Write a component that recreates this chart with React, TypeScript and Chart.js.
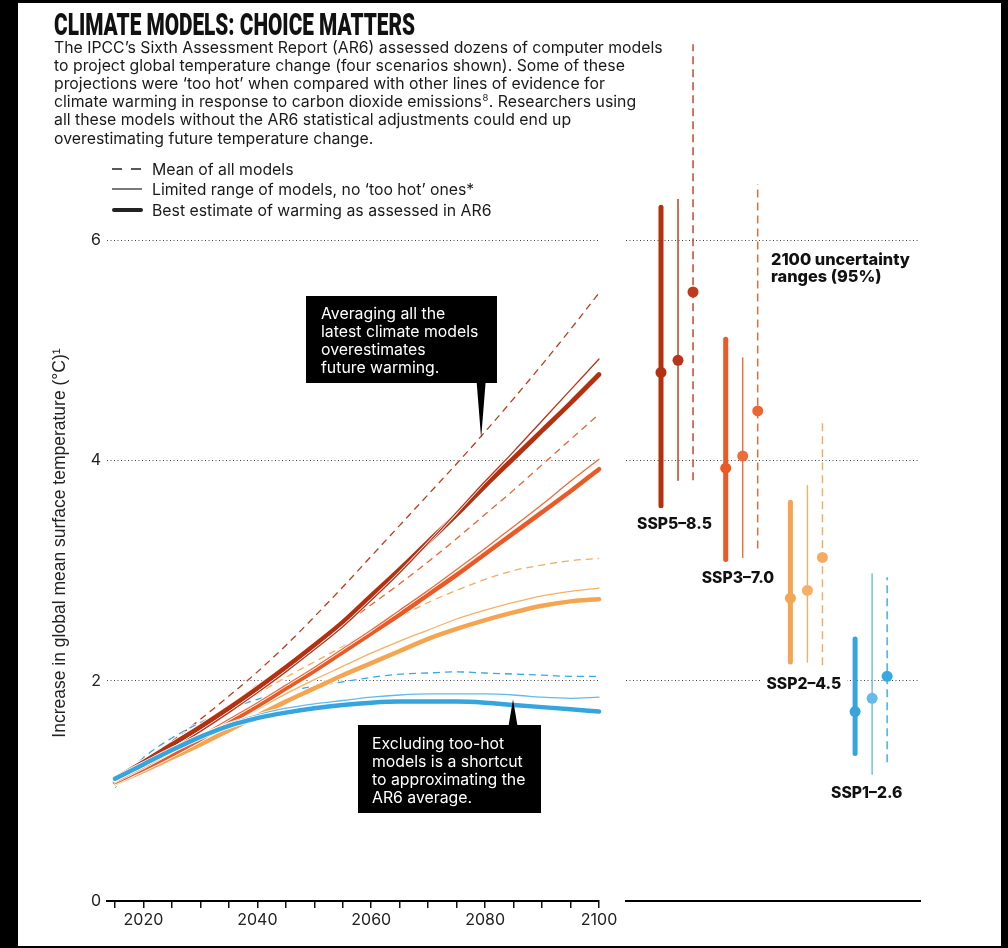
import React, { useEffect, useRef } from 'react';
import { Chart, registerables } from 'chart.js';

Chart.register(...registerables);

// ---------- Data ----------
const years = [2015, 2020, 2025, 2030, 2035, 2040, 2045, 2050, 2055, 2060, 2065, 2070, 2075, 2080, 2085, 2090, 2095, 2100];
const labelYears = [2020, 2040, 2060, 2080, 2100];
const yTickValues = [0, 2, 4, 6];
const yGridValues = [2, 4, 6];

// SSP5-8.5
const ssp585Mean = [1.05, 1.25, 1.45, 1.65, 1.86, 2.08, 2.32, 2.58, 2.85, 3.13, 3.41, 3.69, 3.97, 4.26, 4.56, 4.87, 5.19, 5.52];
const ssp585Limited = [1.09, 1.23, 1.38, 1.54, 1.71, 1.89, 2.08, 2.28, 2.49, 2.73, 2.98, 3.25, 3.53, 3.81, 4.08, 4.36, 4.64, 4.92];
const ssp585Best = [1.11, 1.26, 1.42, 1.58, 1.75, 1.93, 2.12, 2.32, 2.53, 2.77, 3.01, 3.26, 3.51, 3.77, 4.02, 4.27, 4.52, 4.78];
// SSP3-7.0
const ssp370Mean = [1.04, 1.23, 1.41, 1.59, 1.77, 1.96, 2.13, 2.31, 2.50, 2.69, 2.88, 3.08, 3.29, 3.51, 3.73, 3.96, 4.19, 4.42];
const ssp370Limited = [1.08, 1.21, 1.35, 1.50, 1.65, 1.80, 1.96, 2.12, 2.29, 2.46, 2.64, 2.82, 3.01, 3.20, 3.40, 3.60, 3.81, 4.01];
const ssp370Best = [1.08, 1.20, 1.33, 1.47, 1.62, 1.77, 1.93, 2.09, 2.26, 2.43, 2.60, 2.78, 2.96, 3.15, 3.34, 3.53, 3.72, 3.92];
// SSP2-4.5
const ssp245Mean = [1.04, 1.22, 1.39, 1.56, 1.72, 1.88, 2.03, 2.17, 2.31, 2.45, 2.58, 2.71, 2.82, 2.92, 3.00, 3.05, 3.09, 3.11];
const ssp245Limited = [1.05, 1.18, 1.32, 1.46, 1.60, 1.74, 1.88, 2.01, 2.13, 2.25, 2.36, 2.46, 2.56, 2.64, 2.71, 2.77, 2.81, 2.84];
const ssp245Best = [1.07, 1.18, 1.30, 1.42, 1.55, 1.68, 1.81, 1.93, 2.05, 2.16, 2.27, 2.38, 2.47, 2.55, 2.62, 2.68, 2.72, 2.74];
// SSP1-2.6
const ssp126Mean = [1.03, 1.30, 1.48, 1.62, 1.74, 1.83, 1.90, 1.95, 1.99, 2.03, 2.06, 2.07, 2.08, 2.07, 2.06, 2.05, 2.04, 2.04];
const ssp126Limited = [1.10, 1.24, 1.37, 1.50, 1.61, 1.69, 1.75, 1.79, 1.82, 1.85, 1.87, 1.88, 1.88, 1.88, 1.87, 1.85, 1.84, 1.85];
const ssp126Best = [1.11, 1.24, 1.37, 1.49, 1.59, 1.66, 1.71, 1.75, 1.78, 1.80, 1.81, 1.81, 1.81, 1.80, 1.78, 1.76, 1.74, 1.72];

// 2100 uncertainty ranges (95%)
const scenarioNames = ['SSP5–8.5', 'SSP3–7.0', 'SSP2–4.5', 'SSP1–2.6'];
const best2100Low = [3.59, 3.10, 2.17, 1.34];
const best2100Mid = [4.80, 3.93, 2.75, 1.72];
const best2100High = [6.30, 5.10, 3.62, 2.38];
const limited2100Low = [3.82, 3.12, 2.17, 1.15];
const limited2100Mid = [4.91, 4.04, 2.82, 1.84];
const limited2100High = [6.37, 4.93, 3.77, 2.97];
const mean2100Low = [3.82, 3.20, 2.14, 1.26];
const mean2100Mid = [5.53, 4.45, 3.12, 2.04];
const mean2100High = [7.78, 6.51, 4.37, 2.94];

// ---------- Styles ----------
const bestColors = ['#b5300f', '#e95a26', '#f5a550', '#36a5de'];
const limitedColors = ['#b83519', '#ee6c3a', '#f7af66', '#62bbea'];
const meanColors = ['#c03a1c', '#ec6532', '#f6ab60', '#3aa8e0'];

const TITLE = 'CLIMATE MODELS: CHOICE MATTERS';
const BODY: { t: string; sup?: boolean }[][] = [
  [{ t: 'The IPCC’s Sixth Assessment Report (AR6) assessed dozens of computer models' }],
  [{ t: 'to project global temperature change (four scenarios shown). Some of these' }],
  [{ t: 'projections were ‘too hot’ when compared with other lines of evidence for' }],
  [{ t: 'climate warming in response to carbon dioxide emissions' }, { t: '8', sup: true }, { t: '. Researchers using' }],
  [{ t: 'all these models without the AR6 statistical adjustments could end up' }],
  [{ t: 'overestimating future temperature change.' }],
];
const LEGEND = ['Mean of all models', 'Limited range of models, no ‘too hot’ ones*', 'Best estimate of warming as assessed in AR6'];
const BOX1 = ['Averaging all the', 'latest climate models', 'overestimates', 'future warming.'];
const BOX2 = ['Excluding too-hot', 'models is a shortcut', 'to approximating the', 'AR6 average.'];

const FAMILY = 'Inter, "Noto Sans", sans-serif';
const TEXT = '#1a1a1a';
const VARIANT_OFFSETS = [-0.263, 0, 0.232];

function fitSize(ctx: CanvasRenderingContext2D, text: string, target: number, weight: string, family: string) {
  ctx.font = `${weight} 100px ${family}`;
  return (100 * target) / ctx.measureText(text).width;
}

const mainTextPlugin = {
  id: 'mainText',
  afterDraw(chart: any) {
    const ctx: CanvasRenderingContext2D = chart.ctx;
    const xs = chart.scales.x;
    const ys = chart.scales.y;
    ctx.save();
    ctx.textBaseline = 'alphabetic';
    ctx.textAlign = 'left';

    // Title (condensed heavy)
    ctx.fillStyle = '#111';
    ctx.font = `900 31px Roboto, sans-serif`;
    const tw = ctx.measureText(TITLE).width;
    ctx.save();
    ctx.translate(54, 35);
    ctx.scale(361 / tw, 1);
    ctx.fillText(TITLE, 0, 0);
    ctx.restore();

    // Body text
    const bs = fitSize(ctx, BODY[0][0].t, 609, '400', FAMILY);
    ctx.fillStyle = TEXT;
    BODY.forEach((segs, i) => {
      let x = 54;
      const base = 52.5 + i * 18.2;
      segs.forEach((s) => {
        if (s.sup) {
          ctx.font = `400 ${bs * 0.6}px ${FAMILY}`;
          ctx.fillText(s.t, x + 0.5, base - bs * 0.38);
          x += ctx.measureText(s.t).width + 1;
        } else {
          ctx.font = `400 ${bs}px ${FAMILY}`;
          ctx.fillText(s.t, x, base);
          x += ctx.measureText(s.t).width;
        }
      });
    });

    // Legend
    const legendY = [169, 189, 210];
    ctx.strokeStyle = '#222';
    ctx.lineCap = 'butt';
    ctx.lineWidth = 1.3;
    ctx.beginPath();
    ctx.moveTo(112, legendY[0]); ctx.lineTo(122, legendY[0]);
    ctx.moveTo(131, legendY[0]); ctx.lineTo(141, legendY[0]);
    ctx.stroke();
    ctx.lineWidth = 1.2;
    ctx.beginPath();
    ctx.moveTo(112, legendY[1]); ctx.lineTo(142, legendY[1]);
    ctx.stroke();
    ctx.lineWidth = 4;
    ctx.lineCap = 'round';
    ctx.beginPath();
    ctx.moveTo(114, legendY[2]); ctx.lineTo(141, legendY[2]);
    ctx.stroke();
    ctx.fillStyle = TEXT;
    ctx.font = `400 ${bs}px ${FAMILY}`;
    LEGEND.forEach((t, i) => ctx.fillText(t, 152, legendY[i] + 5.5));

    // Callout box 1
    const tip1x = xs.getPixelForValue(2079.3);
    const tip1y = ys.getPixelForValue(4.2);
    ctx.fillStyle = '#000';
    ctx.fillRect(306, 296, 191, 87);
    ctx.beginPath();
    ctx.moveTo(tip1x - 4.5, 382);
    ctx.lineTo(tip1x + 4.5, 382);
    ctx.lineTo(tip1x, tip1y);
    ctx.closePath();
    ctx.fill();
    ctx.fillStyle = '#fff';
    ctx.font = `400 ${bs}px ${FAMILY}`;
    BOX1.forEach((t, i) => ctx.fillText(t, 321, 318.5 + i * 18));

    // Callout box 2
    const tip2x = xs.getPixelForValue(2084.9);
    const tip2y = ys.getPixelForValue(1.83);
    ctx.fillStyle = '#000';
    ctx.fillRect(358, 725, 183, 88);
    ctx.beginPath();
    ctx.moveTo(tip2x - 4.5, 726);
    ctx.lineTo(tip2x + 4.5, 726);
    ctx.lineTo(tip2x, tip2y);
    ctx.closePath();
    ctx.fill();
    ctx.fillStyle = '#fff';
    BOX2.forEach((t, i) => ctx.fillText(t, 372, 748.5 + i * 18));

    ctx.restore();
  },
};

const rightTextPlugin = {
  id: 'rightText',
  afterDraw(chart: any) {
    const ctx: CanvasRenderingContext2D = chart.ctx;
    const xs = chart.scales.x;
    const ys = chart.scales.y;
    ctx.save();
    ctx.textBaseline = 'alphabetic';
    ctx.textAlign = 'left';
    ctx.fillStyle = '#111';
    const hs = fitSize(ctx, '2100 uncertainty', 139, '800', FAMILY);
    ctx.font = `800 ${hs}px ${FAMILY}`;
    ctx.fillText('2100 uncertainty', 771, 265);
    ctx.fillText('ranges (95%)', 771, 282);

    const ls = fitSize(ctx, scenarioNames[0], 75, '800', FAMILY);
    scenarioNames.forEach((name, g) => {
      const lowest = Math.min(best2100Low[g], limited2100Low[g], mean2100Low[g]);
      const x = xs.getPixelForValue(g + VARIANT_OFFSETS[0]) - 24;
      const y = ys.getPixelForValue(lowest) + 18;
      ctx.font = `800 ${ls}px ${FAMILY}`;
      const w = ctx.measureText(name).width;
      ctx.fillStyle = '#fff';
      ctx.fillRect(x - 6, y - 9, w + 12, 18);
      ctx.fillStyle = '#111';
      ctx.fillText(name, x, y + 5.5);
    });
    ctx.restore();
  },
};

export default function App() {
  const mainRef = useRef<HTMLCanvasElement>(null);
  const rightRef = useRef<HTMLCanvasElement>(null);

  useEffect(() => {
    if (!mainRef.current || !rightRef.current) return;

    // ---- main time-series chart ----
    const series = [
      { data: ssp585Mean, color: meanColors[0], width: 1.3, dash: [7, 5] },
      { data: ssp370Mean, color: meanColors[1], width: 1.3, dash: [7, 5] },
      { data: ssp245Mean, color: meanColors[2], width: 1.3, dash: [7, 5] },
      { data: ssp126Mean, color: meanColors[3], width: 1.3, dash: [7, 5] },
      { data: ssp245Limited, color: limitedColors[2], width: 1.3, dash: [] },
      { data: ssp245Best, color: bestColors[2], width: 4.5, dash: [] },
      { data: ssp370Best, color: bestColors[1], width: 4.5, dash: [] },
      { data: ssp370Limited, color: limitedColors[1], width: 1.3, dash: [] },
      { data: ssp585Best, color: bestColors[0], width: 4.8, dash: [] },
      { data: ssp585Limited, color: limitedColors[0], width: 1.3, dash: [] },
      { data: ssp126Limited, color: limitedColors[3], width: 1.3, dash: [] },
      { data: ssp126Best, color: bestColors[3], width: 4.5, dash: [] },
    ];
    const mainDatasets: any[] = [];
    series.forEach((s, i) => {
      const pts = years.map((yr, k) => ({ x: yr, y: s.data[k] }));
      const base = (series.length - i) * 2;
      const common = {
        data: pts,
        pointRadius: 0,
        fill: false,
        cubicInterpolationMode: 'monotone',
        borderDash: s.dash,
        borderCapStyle: s.dash.length ? 'butt' : 'round',
        borderJoinStyle: 'round',
        clip: false,
      };
      mainDatasets.push({ ...common, borderColor: '#ffffff', borderWidth: s.width + 1.6, order: base + 1 });
      mainDatasets.push({ ...common, borderColor: s.color, borderWidth: s.width, order: base });
    });

    const mainChart = new Chart(mainRef.current, {
      type: 'line',
      data: { datasets: mainDatasets },
      plugins: [mainTextPlugin],
      options: {
        responsive: false,
        animation: false,
        devicePixelRatio: 1,
        events: [],
        layout: { padding: { left: 45, right: 409, top: 185, bottom: 17 }, autoPadding: false },
        plugins: { legend: { display: false }, tooltip: { enabled: false }, title: { display: false } },
        scales: {
          x: {
            type: 'linear',
            min: 2013.6,
            max: 2100,
            afterBuildTicks: (s: any) => { s.ticks = years.map((v) => ({ value: v })); },
            afterFit: (s: any) => { s.height = 30; },
            ticks: {
              autoSkip: false,
              maxRotation: 0,
              padding: 3,
              color: '#222',
              font: { family: FAMILY, size: 16 },
              callback: (v: any) => (labelYears.includes(Number(v)) ? String(v) : ''),
            },
            grid: { display: true, drawOnChartArea: false, drawTicks: true, tickLength: 7, color: '#111', lineWidth: 1.5 },
            border: { display: true, color: '#000', width: 2 },
          },
          y: {
            type: 'linear',
            min: 0,
            max: 6.5,
            afterBuildTicks: (s: any) => { s.ticks = yTickValues.map((v) => ({ value: v })); },
            afterFit: (s: any) => { s.width = 62; },
            ticks: { padding: 6, color: '#222', font: { family: FAMILY, size: 16 }, callback: (v: any) => String(v) },
            grid: {
              drawTicks: false,
              lineWidth: 1,
              color: (c: any) => (c.tick && yGridValues.includes(c.tick.value) ? '#444' : 'rgba(0,0,0,0)'),
            },
            border: { display: false, dash: [1, 2.5] },
            title: {
              display: true,
              text: 'Increase in global mean surface temperature (°C)¹',
              color: '#222',
              font: { family: '"Liberation Sans", Arial, sans-serif', size: 17.5 },
              padding: { top: 4.5, bottom: 0 },
            },
          },
        },
      },
    } as any);

    // ---- right panel: 2100 ranges ----
    const variants = [
      { low: best2100Low, mid: best2100Mid, high: best2100High, colors: bestColors, width: 5, dash: [] as number[] },
      { low: limited2100Low, mid: limited2100Mid, high: limited2100High, colors: limitedColors, width: 1.4, dash: [] as number[] },
      { low: mean2100Low, mid: mean2100Mid, high: mean2100High, colors: meanColors, width: 1.4, dash: [8, 5] },
    ];
    const rightDatasets: any[] = [];
    scenarioNames.forEach((_, g) => {
      variants.forEach((v, vi) => {
        const x = g + VARIANT_OFFSETS[vi];
        rightDatasets.push({
          data: [{ x, y: v.low[g] }, { x, y: v.high[g] }],
          borderColor: v.colors[g],
          borderWidth: v.width,
          borderDash: v.dash,
          borderCapStyle: v.dash.length ? 'butt' : 'round',
          pointRadius: 0,
          fill: false,
          clip: false,
          order: 2,
        });
        rightDatasets.push({
          data: [{ x, y: v.mid[g] }],
          showLine: false,
          pointRadius: 5.5,
          pointBackgroundColor: v.colors[g],
          pointBorderWidth: 0,
          clip: false,
          order: 1,
        });
      });
    });

    const rightChart = new Chart(rightRef.current, {
      type: 'line',
      data: { datasets: rightDatasets },
      plugins: [rightTextPlugin],
      options: {
        responsive: false,
        animation: false,
        devicePixelRatio: 1,
        events: [],
        layout: { padding: { left: 626, right: 88, top: 42, bottom: 47 }, autoPadding: false },
        plugins: { legend: { display: false }, tooltip: { enabled: false }, title: { display: false } },
        scales: {
          x: {
            type: 'linear',
            min: -0.804,
            max: 3.74,
            afterFit: (s: any) => { s.height = 0; },
            ticks: { display: false },
            grid: { display: false },
            border: { display: true, color: '#000', width: 2 },
          },
          y: {
            type: 'linear',
            min: 0,
            max: 7.8,
            afterBuildTicks: (s: any) => { s.ticks = yGridValues.map((v) => ({ value: v })); },
            afterFit: (s: any) => { s.width = 0; },
            ticks: { display: false },
            grid: { drawTicks: false, color: '#444', lineWidth: 1 },
            border: { display: false, dash: [1, 2.5] },
          },
        },
      },
    } as any);

    return () => {
      mainChart.destroy();
      rightChart.destroy();
    };
  }, []);

  return (
    <div style={{ position: 'fixed', left: 0, top: 0, width: 1008, height: 948, background: '#000', overflow: 'hidden' }}>
      <div style={{ position: 'absolute', left: 18, top: 3, width: 983, height: 943, background: '#fff' }} />
      <canvas ref={mainRef} width={1008} height={948} style={{ position: 'absolute', left: 0, top: 0, width: 1008, height: 948 }} />
      <canvas ref={rightRef} width={1008} height={948} style={{ position: 'absolute', left: 0, top: 0, width: 1008, height: 948 }} />
    </div>
  );
}
